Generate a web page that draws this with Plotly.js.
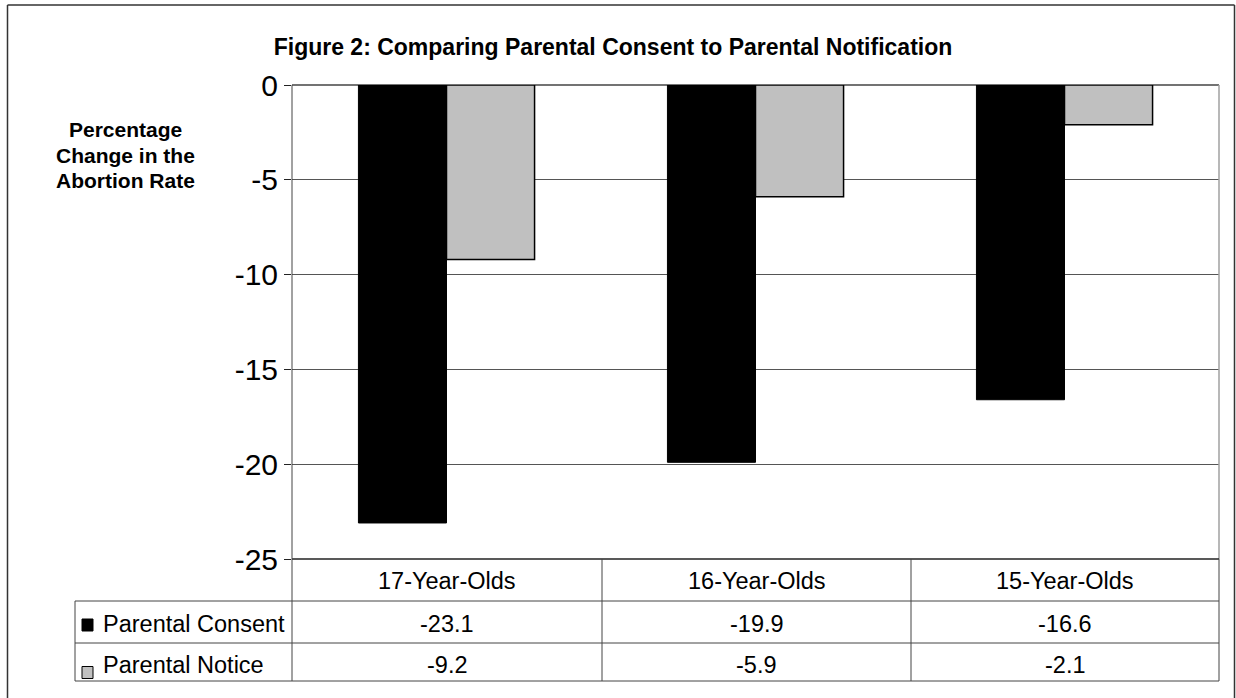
<!DOCTYPE html>
<html>
<head>
<meta charset="utf-8">
<script src="https://cdn.plot.ly/plotly-3.0.1.min.js"></script>
<style>
html,body{margin:0;padding:0;background:#fff;}
#chart{width:1236px;height:698px;}
</style>
</head>
<body>
<div id="chart"></div>
<script>
// ---- data ----
var categories = ["17-Year-Olds", "16-Year-Olds", "15-Year-Olds"];
var seriesNames = ["Parental Consent", "Parental Notice"];
var consentValues = [-23.1, -19.9, -16.6];
var noticeValues = [-9.2, -5.9, -2.1];
var yTickValues = [0, -5, -10, -15, -20, -25];
var titleText = "Figure 2: Comparing Parental Consent to Parental Notification";
var yTitleLines = ["Percentage", "Change in the", "Abortion Rate"];

// ---- layout helpers ----
var W = 1236, H = 698;
var L = 292, R = 1219, T = 85, B = 559;
function xp(px) { return (px - L) / (R - L); }
function yp(py) { return (B - py) / (B - T); }
var FONT = "Liberation Sans, Arial, Helvetica, sans-serif";
var colors = ["#000000", "#c0c0c0"];
var lineCol = "#444444";

var traces = [
  {type: "bar", name: seriesNames[0], x: categories, y: consentValues,
   marker: {color: colors[0], line: {color: "#000", width: 1}}, hoverinfo: "x+y"},
  {type: "bar", name: seriesNames[1], x: categories, y: noticeValues,
   marker: {color: colors[1], line: {color: "#000", width: 1.5}}, hoverinfo: "x+y"}
];

var shapes = [];
function line(x0, y0, x1, y1, col, w, layer) {
  shapes.push({type: "line", xref: "paper", yref: "paper",
    x0: xp(x0), y0: yp(y0), x1: xp(x1), y1: yp(y1),
    line: {color: col, width: w || 1}, layer: layer || "above"});
}
// outer frame
line(7.5, 5, 1234.5, 5, "#333", 1.5);
line(7.5, 5, 7.5, 710, "#333", 1.5);
line(1234.5, 5, 1234.5, 710, "#333", 1.5);
// plot frame
line(L, T, R, T, lineCol, 1.5, "below");
line(R, T, R, B, "#a0a0a0", 1.5);
line(L, B, R, B, "#222", 1.5);
line(L, T, L, 681, lineCol, 1);
// table
var colEdges = [L, 602, 911, R];
for (var c = 1; c < colEdges.length; c++) line(colEdges[c], B, colEdges[c], 681, lineCol, 1);
line(75, 601, 75, 681, lineCol, 1);
line(75, 601, R, 601, lineCol, 1);
line(75, 643, R, 643, lineCol, 1);
line(75, 681, R, 681, lineCol, 1);
// legend keys
var keyRows = [625, 672.5];
for (var s = 0; s < 2; s++) {
  shapes.push({type: "rect", xref: "paper", yref: "paper",
    x0: xp(82), x1: xp(93), y0: yp(keyRows[s] - 6), y1: yp(keyRows[s] + 6),
    fillcolor: colors[s], line: {color: "#000", width: 1}});
}

var annotations = [];
function ann(text, xpx, ypx, size, xanchor, bold) {
  annotations.push({xref: "paper", yref: "paper", x: xp(xpx), y: yp(ypx),
    text: bold ? "<b>" + text + "</b>" : text, showarrow: false,
    xanchor: xanchor || "center", yanchor: "middle",
    font: {family: FONT, size: size, color: "#000"}});
}
var rowY = [581, 624, 665];
var seriesVals = [consentValues, noticeValues];
var TS = 23.5;
for (var i = 0; i < categories.length; i++) {
  var cx = (colEdges[i] + colEdges[i + 1]) / 2;
  ann(categories[i], cx, rowY[0], TS);
  ann(seriesVals[0][i].toFixed(1), cx, rowY[1], TS);
  ann(seriesVals[1][i].toFixed(1), cx, rowY[2], TS);
}
ann(seriesNames[0], 101, rowY[1], TS, "left");
ann(seriesNames[1], 101, rowY[2], TS, "left");
// y title lines
var yTitleY = [130, 155, 180];
for (var k = 0; k < yTitleLines.length; k++) ann(yTitleLines[k], 125.5, yTitleY[k], 21, "center", true);

var layout = {
  width: W, height: H,
  margin: {l: L, r: W - R, t: T, b: H - B, pad: 0},
  paper_bgcolor: "#fff", plot_bgcolor: "#fff",
  showlegend: false,
  barmode: "group", bargap: 0.43, bargroupgap: 0,
  title: {text: "<b>" + titleText + "</b>", xref: "container", yref: "container",
    x: 613 / W, y: 1 - 47 / H, xanchor: "center", yanchor: "middle",
    font: {family: FONT, size: 23, color: "#000"}},
  xaxis: {type: "category", showticklabels: false, ticks: "", showgrid: false,
    zeroline: false, showline: false, fixedrange: true},
  yaxis: {range: [-25, 0], tickvals: yTickValues, ticktext: yTickValues.map(String),
    ticks: "outside", ticklen: 7, tickwidth: 1, tickcolor: "#222",
    tickfont: {family: FONT, size: 30, color: "#000"},
    showgrid: true, gridcolor: "#555", gridwidth: 1,
    zeroline: false, showline: false, fixedrange: true},
  shapes: shapes, annotations: annotations,
  font: {family: FONT}
};

Plotly.newPlot("chart", traces, layout, {displayModeBar: false, staticPlot: true});
</script>
</body>
</html>
